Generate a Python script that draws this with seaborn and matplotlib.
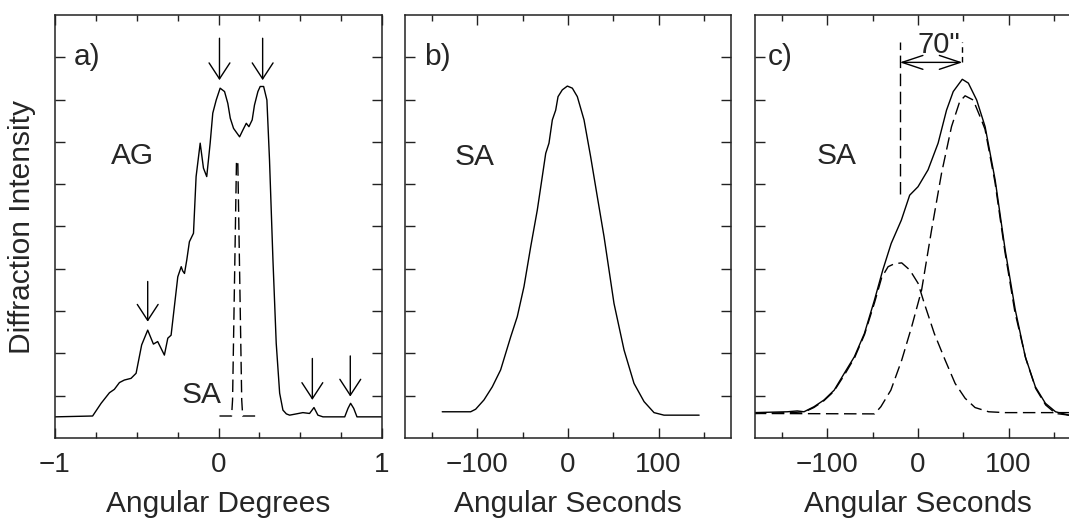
import numpy as np
import pandas as pd
import matplotlib
matplotlib.use("Agg")
import matplotlib.pyplot as plt
from matplotlib.ticker import MultipleLocator, FixedLocator, NullFormatter
import seaborn as sns

# ---------------- data ----------------
# panel a: AG rocking curve (angular degrees vs intensity)
ag_x = [-1.0, -0.77, -0.718, -0.667, -0.637, -0.606, -0.576, -0.535, -0.504, -0.47,
        -0.433, -0.398, -0.372, -0.331, -0.31, -0.29, -0.249, -0.228, -0.219, -0.208,
        -0.194, -0.178, -0.153, -0.137, -0.112, -0.092, -0.072, -0.051, -0.035, -0.014,
        0.01, 0.037, 0.057, 0.072, 0.092, 0.129, 0.149, 0.17, 0.186, 0.206,
        0.22, 0.241, 0.255, 0.276, 0.296, 0.312, 0.333, 0.353, 0.374, 0.394,
        0.415, 0.435, 0.476, 0.516, 0.557, 0.584, 0.608, 0.639, 0.772, 0.792,
        0.808, 0.827, 0.847, 1.0]
ag_y = [0.5, 0.52, 0.82, 1.07, 1.15, 1.31, 1.37, 1.41, 1.53, 2.2,
        2.55, 2.22, 2.28, 1.96, 2.36, 2.43, 3.81, 4.05, 3.95, 3.89,
        4.21, 4.64, 4.84, 6.18, 6.97, 6.38, 6.18, 6.97, 7.68, 7.99,
        8.27, 8.19, 7.91, 7.56, 7.32, 7.12, 7.28, 7.44, 7.36, 7.52,
        7.87, 8.19, 8.31, 8.31, 7.99, 6.57, 4.21, 2.24, 1.06, 0.66,
        0.57, 0.54, 0.57, 0.6, 0.58, 0.72, 0.54, 0.5, 0.5, 0.7,
        0.82, 0.7, 0.5, 0.5]
# panel a: SA reference peak (dashed)
sa_a_x = [0.006, 0.08, 0.086, 0.11, 0.118, 0.142, 0.148, 0.241]
sa_a_y = [0.52, 0.52, 0.9, 6.55, 6.55, 0.9, 0.52, 0.52]

# panel b: SA rocking curve (angular seconds)
sa_b_x = [-138.9, -107.5, -102, -92.8, -83.6, -74.4, -63.3, -56, -48.6, -41.2,
          -33.9, -28.4, -24.6, -21, -17.3, -13.6, -11, -6.3, -0.7, 4.8,
          10.3, 17.7, 25, 32.4, 39.8, 50.8, 61.9, 72.9, 84, 95,
          106, 144.8]
sa_b_y = [0.62, 0.62, 0.68, 0.9, 1.21, 1.61, 2.39, 2.87, 3.58, 4.52,
          5.39, 6.18, 6.73, 6.97, 7.52, 7.75, 8.07, 8.23, 8.32, 8.27,
          8.07, 7.52, 6.65, 5.7, 4.76, 3.18, 2.08, 1.29, 0.86, 0.6,
          0.54, 0.54]

# panel c: SA rocking curve (solid) and two fitted components (dashed)
sa_c_x = [-181.4, -144.4, -133.3, -125.9, -114.8, -103.7, -92.6, -81.4, -70.3, -59.2,
          -48.1, -38.9, -29.6, -18.4, -9.2, 0, 11.1, 22.2, 31.5, 38.9,
          44.4, 48.9, 55.6, 64.8, 74.1, 85.2, 96.3, 107.4, 118.5, 129.6,
          140.7, 151.9, 166.7]
sa_c_y = [0.6, 0.62, 0.64, 0.62, 0.74, 0.9, 1.13, 1.53, 1.92, 2.47,
          3.26, 3.97, 4.6, 5.15, 5.74, 5.94, 6.34, 6.97, 7.75, 8.19,
          8.35, 8.48, 8.39, 7.99, 7.36, 6.1, 4.44, 3.03, 1.92, 1.21,
          0.82, 0.62, 0.54]
comp1_x = [-181.4, -140, -125, -115, -104, -93, -81, -70, -59, -48,
           -40, -33, -26, -18, -9, 0, 7, 18, 30, 41,
           52, 63, 78, 96, 166.7]
comp1_y = [0.58, 0.6, 0.62, 0.72, 0.88, 1.1, 1.5, 1.9, 2.45, 3.2,
           3.8, 4.05, 4.12, 4.14, 3.97, 3.66, 3.18, 2.47, 1.84, 1.29,
           0.94, 0.72, 0.62, 0.6, 0.6]
comp2_x = [-181.4, -48, -41, -30, -18, -7, 4, 15, 26, 37,
           46, 52, 61, 70, 74, 85, 96, 107, 119, 130,
           141, 152, 166.7]
comp2_y = [0.58, 0.57, 0.74, 1.13, 1.84, 2.63, 3.5, 4.92, 6.26, 7.36,
           7.95, 8.09, 7.99, 7.52, 7.3, 6.05, 4.4, 2.98, 1.88, 1.17,
           0.78, 0.58, 0.54]

# arrows marking peaks in panel a: (x, tip_y, tail_y)
arrow_x = [-0.433, 0.006, 0.27, 0.574, 0.806]
arrow_tip = [2.75, 8.46, 8.46, 0.9, 0.98]
arrow_tail = [3.7, 9.45, 9.45, 1.88, 1.94]

# peak separation in panel c
sep_left, sep_right = -20, 49
sep_label = '70"'

xticks_a = [-1, 0, 1]
xticks_bc = [-100, 0, 100]

# ---------------- style ----------------
sns.set_theme(style="ticks")
plt.rcParams["font.family"] = ["Liberation Sans", "DejaVu Sans"]
plt.rcParams["lines.scale_dashes"] = False
plt.rcParams["axes.edgecolor"] = "#222222"

FS = 21.5     # labels and annotations
TFS = 20      # tick labels
fig = plt.figure(figsize=(10.69, 5.19), dpi=100)
W, H = 1069.0, 519.0

def px_axes(l, r, t, b):
    return [l / W, 1 - b / H, (r - l) / W, (b - t) / H]

ax_a = fig.add_axes(px_axes(55, 382, 15, 438))
ax_b = fig.add_axes(px_axes(405, 731, 15, 438))
ax_c = fig.add_axes(px_axes(755, 1081, 15, 438))

dash = (0, (9, 4))
lw = 1.0

df_a = pd.DataFrame({"x": ag_x, "y": ag_y})
sns.lineplot(data=df_a, x="x", y="y", ax=ax_a, color="black", lw=lw, sort=False)
sns.lineplot(x=sa_a_x, y=sa_a_y, ax=ax_a, color="black", lw=lw, linestyle=dash, sort=False)

sns.lineplot(x=sa_b_x, y=sa_b_y, ax=ax_b, color="black", lw=lw, sort=False)

sns.lineplot(x=sa_c_x, y=sa_c_y, ax=ax_c, color="black", lw=lw, sort=False)
sns.lineplot(x=comp1_x, y=comp1_y, ax=ax_c, color="black", lw=lw, linestyle=dash, sort=False)
sns.lineplot(x=comp2_x, y=comp2_y, ax=ax_c, color="black", lw=lw, linestyle=dash, sort=False)

for ax in (ax_a, ax_b, ax_c):
    ax.set_ylim(0, 10)
    ax.yaxis.set_major_locator(FixedLocator(list(range(1, 10))))
    ax.yaxis.set_major_formatter(NullFormatter())
    ax.tick_params(axis="both", which="major", direction="in", length=7, width=1,
                   top=True, right=True, labelsize=TFS, pad=10, color="#222222")
    ax.tick_params(axis="both", which="minor", direction="in", length=4.3, width=1,
                   top=True, right=True, color="#222222")
    ax.set_ylabel("")
    for s in ax.spines.values():
        s.set_linewidth(1.1)

ax_a.set_xlim(-1, 1)
ax_a.xaxis.set_major_locator(FixedLocator(xticks_a))
ax_a.xaxis.set_minor_locator(MultipleLocator(0.25))
ax_a.set_xticklabels(["\u22121", "0", "1"])
ax_a.set_xlabel("Angular Degrees", fontsize=FS)

for ax in (ax_b, ax_c):
    ax.set_xlim(-180, 180)
    ax.xaxis.set_major_locator(FixedLocator(xticks_bc))
    ax.xaxis.set_minor_locator(MultipleLocator(50))
    ax.set_xticklabels(["\u2212100", "0", "100"])
    ax.set_xlabel("Angular Seconds", fontsize=FS)

for ax in (ax_a, ax_b, ax_c):
    ax.xaxis.set_label_coords(0.5, -0.124)

fig.text(22 / W, 1 - 226.5 / H, "Diffraction Intensity", rotation=90,
         ha="center", va="center", fontsize=FS)

# panel texts
ax_a.text(-0.885, 9.0, "a)", fontsize=FS, ha="left", va="center")
ax_a.text(-0.655, 6.67, "AG", fontsize=FS, ha="left", va="center")
ax_a.text(-0.225, 1.02, "SA", fontsize=FS, ha="left", va="center")
ax_b.text(-159, 9.0, "b)", fontsize=FS, ha="left", va="center")
ax_b.text(-125, 6.65, "SA", fontsize=FS, ha="left", va="center")
ax_c.text(-166, 9.0, "c)", fontsize=FS, ha="left", va="center")
ax_c.text(-112, 6.67, "SA", fontsize=FS, ha="left", va="center")

arrow_style = dict(arrowstyle="->,head_length=1.15,head_width=0.75", color="black",
                   lw=1.0, shrinkA=0, shrinkB=0, mutation_scale=10)
for x, tip, tail in zip(arrow_x, arrow_tip, arrow_tail):
    ax_a.annotate("", xy=(x, tip), xytext=(x, tail), arrowprops=arrow_style)

# panel c separation marker
ax_c.plot([sep_left, sep_left], [5.78, 9.37], color="black", lw=lw, linestyle=dash)
ax_c.plot([sep_right, sep_right], [8.88, 9.37], color="black", lw=lw, linestyle=(0, (4, 3)))
ax_c.annotate("", xy=(sep_left, 8.88), xytext=(sep_right, 8.88),
              arrowprops=dict(arrowstyle="<->,head_length=1.5,head_width=0.5",
                              color="black", lw=1.0, shrinkA=0, shrinkB=0,
                              mutation_scale=10))
ax_c.text((sep_left + sep_right) / 2 + 9, 9.3, sep_label, fontsize=21,
          ha="center", va="center")

fig.savefig("out.png", dpi=100)
